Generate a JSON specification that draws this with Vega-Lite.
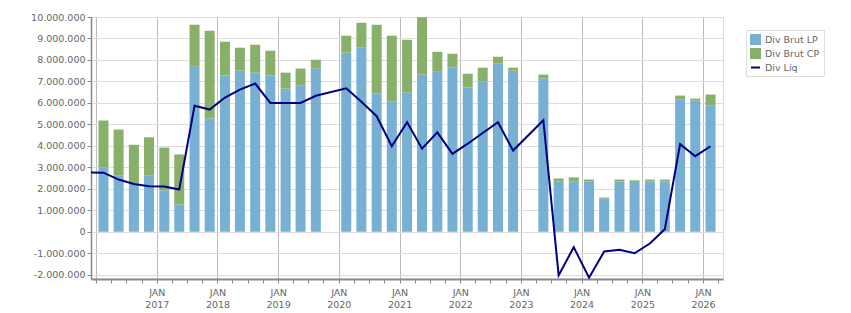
{
  "$schema": "https://vega.github.io/schema/vega-lite/v6.json",
  "width": 632,
  "height": 262,
  "autosize": {"type": "none"},
  "padding": {"left": 91, "top": 17, "right": 128, "bottom": 34},
  "background": "white",
  "config": {
    "locale": {"number": {"decimal": ",", "thousands": ".", "grouping": [3], "currency": ["", " €"], "minus": "-"}},
    "font": "DejaVu Sans",
    "view": {"stroke": "#ddd"}
  },
  "data": {"values": [
    {"date": "2015-11-15", "Div Liq": 2760000},
    {"date": "2016-02-15", "Div Brut LP": 3000000, "Div Brut CP": 2180000, "Div Liq": 2750000},
    {"date": "2016-05-16", "Div Brut LP": 2630000, "Div Brut CP": 2130000, "Div Liq": 2430000},
    {"date": "2016-08-16", "Div Brut LP": 2250000, "Div Brut CP": 1800000, "Div Liq": 2220000},
    {"date": "2016-11-15", "Div Brut LP": 2630000, "Div Brut CP": 1770000, "Div Liq": 2120000},
    {"date": "2017-02-15", "Div Brut LP": 1930000, "Div Brut CP": 1990000, "Div Liq": 2110000},
    {"date": "2017-05-16", "Div Brut LP": 1270000, "Div Brut CP": 2330000, "Div Liq": 1970000},
    {"date": "2017-08-16", "Div Brut LP": 7690000, "Div Brut CP": 1950000, "Div Liq": 5870000},
    {"date": "2017-11-15", "Div Brut LP": 5270000, "Div Brut CP": 4090000, "Div Liq": 5690000},
    {"date": "2018-02-15", "Div Brut LP": 7270000, "Div Brut CP": 1580000, "Div Liq": 6250000},
    {"date": "2018-05-16", "Div Brut LP": 7500000, "Div Brut CP": 1070000, "Div Liq": 6620000},
    {"date": "2018-08-16", "Div Brut LP": 7410000, "Div Brut CP": 1300000, "Div Liq": 6900000},
    {"date": "2018-11-15", "Div Brut LP": 7270000, "Div Brut CP": 1160000, "Div Liq": 6000000},
    {"date": "2019-02-15", "Div Brut LP": 6670000, "Div Brut CP": 740000, "Div Liq": 6000000},
    {"date": "2019-05-16", "Div Brut LP": 6800000, "Div Brut CP": 800000, "Div Liq": 6000000},
    {"date": "2019-08-16", "Div Brut LP": 7600000, "Div Brut CP": 410000, "Div Liq": 6330000},
    {"date": "2020-02-15", "Div Brut LP": 8340000, "Div Brut CP": 790000, "Div Liq": 6680000},
    {"date": "2020-05-16", "Div Brut LP": 8570000, "Div Brut CP": 1160000, "Div Liq": 6050000},
    {"date": "2020-08-16", "Div Brut LP": 6430000, "Div Brut CP": 3210000, "Div Liq": 5380000},
    {"date": "2020-11-15", "Div Brut LP": 6060000, "Div Brut CP": 3070000, "Div Liq": 3980000},
    {"date": "2021-02-15", "Div Brut LP": 6480000, "Div Brut CP": 2460000, "Div Liq": 5100000},
    {"date": "2021-05-16", "Div Brut LP": 7320000, "Div Brut CP": 2670000, "Div Liq": 3870000},
    {"date": "2021-08-16", "Div Brut LP": 7450000, "Div Brut CP": 930000, "Div Liq": 4630000},
    {"date": "2021-11-15", "Div Brut LP": 7640000, "Div Brut CP": 650000, "Div Liq": 3630000},
    {"date": "2022-02-15", "Div Brut LP": 6710000, "Div Brut CP": 650000, "Div Liq": 4100000},
    {"date": "2022-05-16", "Div Brut LP": 6990000, "Div Brut CP": 650000, "Div Liq": 4600000},
    {"date": "2022-08-16", "Div Brut LP": 7830000, "Div Brut CP": 320000, "Div Liq": 5100000},
    {"date": "2022-11-15", "Div Brut LP": 7500000, "Div Brut CP": 140000, "Div Liq": 3780000},
    {"date": "2023-05-16", "Div Brut LP": 7130000, "Div Brut CP": 190000, "Div Liq": 5190000},
    {"date": "2023-08-16", "Div Brut LP": 2350000, "Div Brut CP": 130000, "Div Liq": -2030000},
    {"date": "2023-11-15", "Div Brut LP": 2350000, "Div Brut CP": 180000, "Div Liq": -720000},
    {"date": "2024-02-15", "Div Brut LP": 2340000, "Div Brut CP": 90000, "Div Liq": -2140000},
    {"date": "2024-05-16", "Div Brut LP": 1550000, "Div Brut CP": 50000, "Div Liq": -920000},
    {"date": "2024-08-16", "Div Brut LP": 2340000, "Div Brut CP": 90000, "Div Liq": -840000},
    {"date": "2024-11-15", "Div Brut LP": 2370000, "Div Brut CP": 30000, "Div Liq": -1000000},
    {"date": "2025-02-15", "Div Brut LP": 2340000, "Div Brut CP": 90000, "Div Liq": -550000},
    {"date": "2025-05-16", "Div Brut LP": 2340000, "Div Brut CP": 90000, "Div Liq": 120000},
    {"date": "2025-08-16", "Div Brut LP": 6150000, "Div Brut CP": 190000, "Div Liq": 4080000},
    {"date": "2025-11-15", "Div Brut LP": 6110000, "Div Brut CP": 90000, "Div Liq": 3520000},
    {"date": "2026-02-15", "Div Brut LP": 5870000, "Div Brut CP": 520000, "Div Liq": 3980000}
  ]},
  "encoding": {
    "x": {
      "field": "date",
      "type": "temporal",
      "scale": {"type": "utc", "domain": [{"year": 2016, "month": 1, "date": 1, "utc": true}, {"year": 2026, "month": 4, "date": 1, "utc": true}]},
      "axis": {
        "title": null,
        "tickCount": {"interval": "month", "step": 3},
        "labelExpr": "utcmonth(datum.value) === 0 && utcyear(datum.value) > 2016 ? ['JAN', utcFormat(datum.value, '%Y')] : ''",
        "labelOverlap": false,
        "labelFlush": false,
        "grid": true,
        "gridColor": {"condition": {"test": "utcmonth(datum.value) === 0", "value": "#bbb"}, "value": "transparent"},
        "domainColor": "#888",
        "domainWidth": 2,
        "tickColor": "#888",
        "tickSize": 4,
        "labelColor": "#666",
        "labelFont": "DejaVu Sans",
        "labelFontSize": 9.5,
        "labelPadding": 4,
        "labelLineHeight": 12.5
      }
    },
    "y": {
      "type": "quantitative",
      "scale": {"domain": [-2200000, 10000000], "nice": false, "zero": false},
      "axis": {
        "title": null,
        "values": [-2000000, -1000000, 0, 1000000, 2000000, 3000000, 4000000, 5000000, 6000000, 7000000, 8000000, 9000000, 10000000],
        "tickCount": 13,
        "format": ",d",
        "labelOverlap": false,
        "labelColor": "#666",
        "labelFont": "DejaVu Sans",
        "labelFontSize": 9.5,
        "labelPadding": 2,
        "tickSize": 4,
        "tickColor": "#888",
        "domainColor": "#888",
        "domainWidth": 1.5,
        "gridColor": "#ddd"
      }
    }
  },
  "layer": [
    {
      "transform": [{"fold": ["Div Brut LP", "Div Brut CP"], "as": ["series", "value"]}],
      "mark": {"type": "bar", "size": 10, "clip": true},
      "encoding": {
        "y": {
          "field": "value",
          "type": "quantitative",
          "stack": "zero",
          "scale": {"domain": [-2200000, 10000000], "nice": false, "zero": false},
          "axis": {
            "title": null,
            "values": [-2000000, -1000000, 0, 1000000, 2000000, 3000000, 4000000, 5000000, 6000000, 7000000, 8000000, 9000000, 10000000],
            "tickCount": 13,
            "format": ",d",
            "labelOverlap": false,
            "labelColor": "#666",
            "labelFont": "DejaVu Sans",
            "labelFontSize": 9.5,
            "labelPadding": 2,
            "tickSize": 4,
            "tickColor": "#888",
            "domainColor": "#888",
            "domainWidth": 1.5,
            "gridColor": "#ddd"
          }
        },
        "color": {
          "field": "series",
          "type": "nominal",
          "scale": {"domain": ["Div Brut LP", "Div Brut CP", "Div Liq"], "range": ["#78b0d3", "#88b06b", "#000080"]},
          "legend": {
            "title": null,
            "orient": "none",
            "legendX": 655,
            "legendY": 13,
            "strokeColor": "#ddd",
            "fillColor": "white",
            "padding": 4,
            "symbolSize": 81,
            "labelFont": "DejaVu Sans",
            "labelFontSize": 9.5,
            "labelColor": "#666",
            "labelOffset": 4,
            "rowPadding": -4.5,
            "encode": {
              "symbols": {
                "update": {
                  "size": {"value": 81},
                  "shape": {"signal": "datum.value === 'Div Liq' ? 'stroke' : 'square'"},
                  "fill": {"signal": "datum.value === 'Div Liq' ? 'transparent' : (datum.value === 'Div Brut LP' ? '#78b0d3' : '#88b06b')"},
                  "stroke": {"signal": "datum.value === 'Div Liq' ? '#000080' : 'transparent'"},
                  "strokeWidth": {"value": 2}
                }
              }
            }
          }
        },
        "order": {"field": "series", "sort": "descending"}
      }
    },
    {
      "mark": {"type": "line", "color": "#000080", "strokeWidth": 2, "clip": true},
      "encoding": {
        "y": {
          "field": "Div Liq",
          "type": "quantitative",
          "axis": {
            "title": null,
            "values": [-2000000, -1000000, 0, 1000000, 2000000, 3000000, 4000000, 5000000, 6000000, 7000000, 8000000, 9000000, 10000000],
            "tickCount": 13,
            "format": ",d",
            "labelOverlap": false,
            "labelColor": "#666",
            "labelFont": "DejaVu Sans",
            "labelFontSize": 9.5,
            "labelPadding": 2,
            "tickSize": 4,
            "tickColor": "#888",
            "domainColor": "#888",
            "domainWidth": 1.5,
            "gridColor": "#ddd"
          }
        },
        "color": {"datum": "Div Liq"}
      }
    }
  ]
}
